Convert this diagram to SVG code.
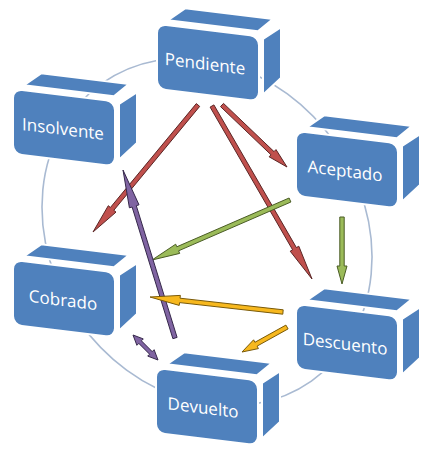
<svg xmlns="http://www.w3.org/2000/svg" xmlns:xlink="http://www.w3.org/1999/xlink" width="434" height="452" viewBox="0 0 434 452">
<style>
.face{fill:#4F81BD;stroke:#fff;stroke-width:2}
.lbl{font-family:"Open Sans","Noto Sans","Liberation Sans",sans-serif;font-size:17px;fill:#fff;text-anchor:middle}
.ring{fill:none;stroke:#A9BAD2;stroke-width:1.6}
.red{fill:#C0504D;stroke:#5a2524;stroke-width:1}
.green{fill:#9BBB59;stroke:#4a5c25;stroke-width:1}
.purple{fill:#8064A2;stroke:#35284a;stroke-width:1}
.orange{fill:#F7B81E;stroke:#7a5a08;stroke-width:1}
</style>
<defs>
<g id="box">
<polygon class="face" points="-39,-38 -22,-52 66,-52 51,-38"/>
<polygon class="face" points="56,-31 74,-45 74,6 56,25"/>
<rect class="face" x="-50" y="-33" width="102" height="65" rx="9"/>
</g>
</defs>
<rect width="434" height="452" fill="#fff"/>
<ellipse class="ring" cx="207" cy="232" rx="182" ry="156" transform="rotate(55 207 232)"/>
<g id="n-pendiente" transform="translate(207,63) skewY(7)"><use xlink:href="#box"/><text class="lbl" x="-2" y="7">Pendiente</text></g>
<g id="n-insolvente" transform="translate(63,128) skewY(7)"><use xlink:href="#box"/><text class="lbl" x="0" y="7">Insolvente</text></g>
<g id="n-aceptado" transform="translate(346,170) skewY(7)"><use xlink:href="#box"/><text class="lbl" x="-1" y="7">Aceptado</text></g>
<g id="n-cobrado" transform="translate(63,299) skewY(7)"><use xlink:href="#box"/><text class="lbl" x="0" y="7">Cobrado</text></g>
<g id="n-descuento" transform="translate(346,343) skewY(7)"><use xlink:href="#box"/><text class="lbl" x="-1" y="7">Descuento</text></g>
<g id="n-devuelto" transform="translate(206,407) skewY(7)"><use xlink:href="#box"/><text class="lbl" x="-3" y="7">Devuelto</text></g>
<g id="connectors">
<polygon class="red" points="196.3,103.6 110.4,207.5 108.3,205.7 93,232 116.0,212.1 113.8,210.3 199.7,106.4"/>
<polygon class="red" points="210.1,107.1 292.6,249.8 290.2,251.2 312,279 298.8,246.2 296.4,247.6 213.9,104.9"/>
<polygon class="red" points="220.5,106.6 271.0,154.8 269.1,156.8 287,167 276.0,149.6 274.0,151.6 223.5,103.4"/>
<polygon class="green" points="289.1,198.0 176.8,246.8 175.7,244.2 152,260 179.7,253.4 178.6,250.8 290.9,202.0"/>
<polygon class="green" points="339.8,217 339.8,266 337,266 342,284 347,266 344.2,266 344.2,217"/>
<polygon class="purple" points="177.1,337.4 136.3,205.7 139.0,204.8 123,170 129.4,207.8 132.1,207.0 172.9,338.7"/>
<polygon class="purple" points="133,335 143.3,338.9 141.4,340.8 152.2,351.6 154.1,349.7 158,360 147.7,356.1 149.6,354.2 138.8,343.4 136.9,345.3"/>
<polygon class="orange" points="283.2,309.8 180.0,298.2 180.4,295.4 150,297 179.2,305.4 179.6,302.6 282.8,314.2"/>
<polygon class="orange" points="285.9,325.1 254.9,342.3 253.6,339.8 242,352 258.4,348.6 257.1,346.1 288.1,328.9"/>
</g>
</svg>
